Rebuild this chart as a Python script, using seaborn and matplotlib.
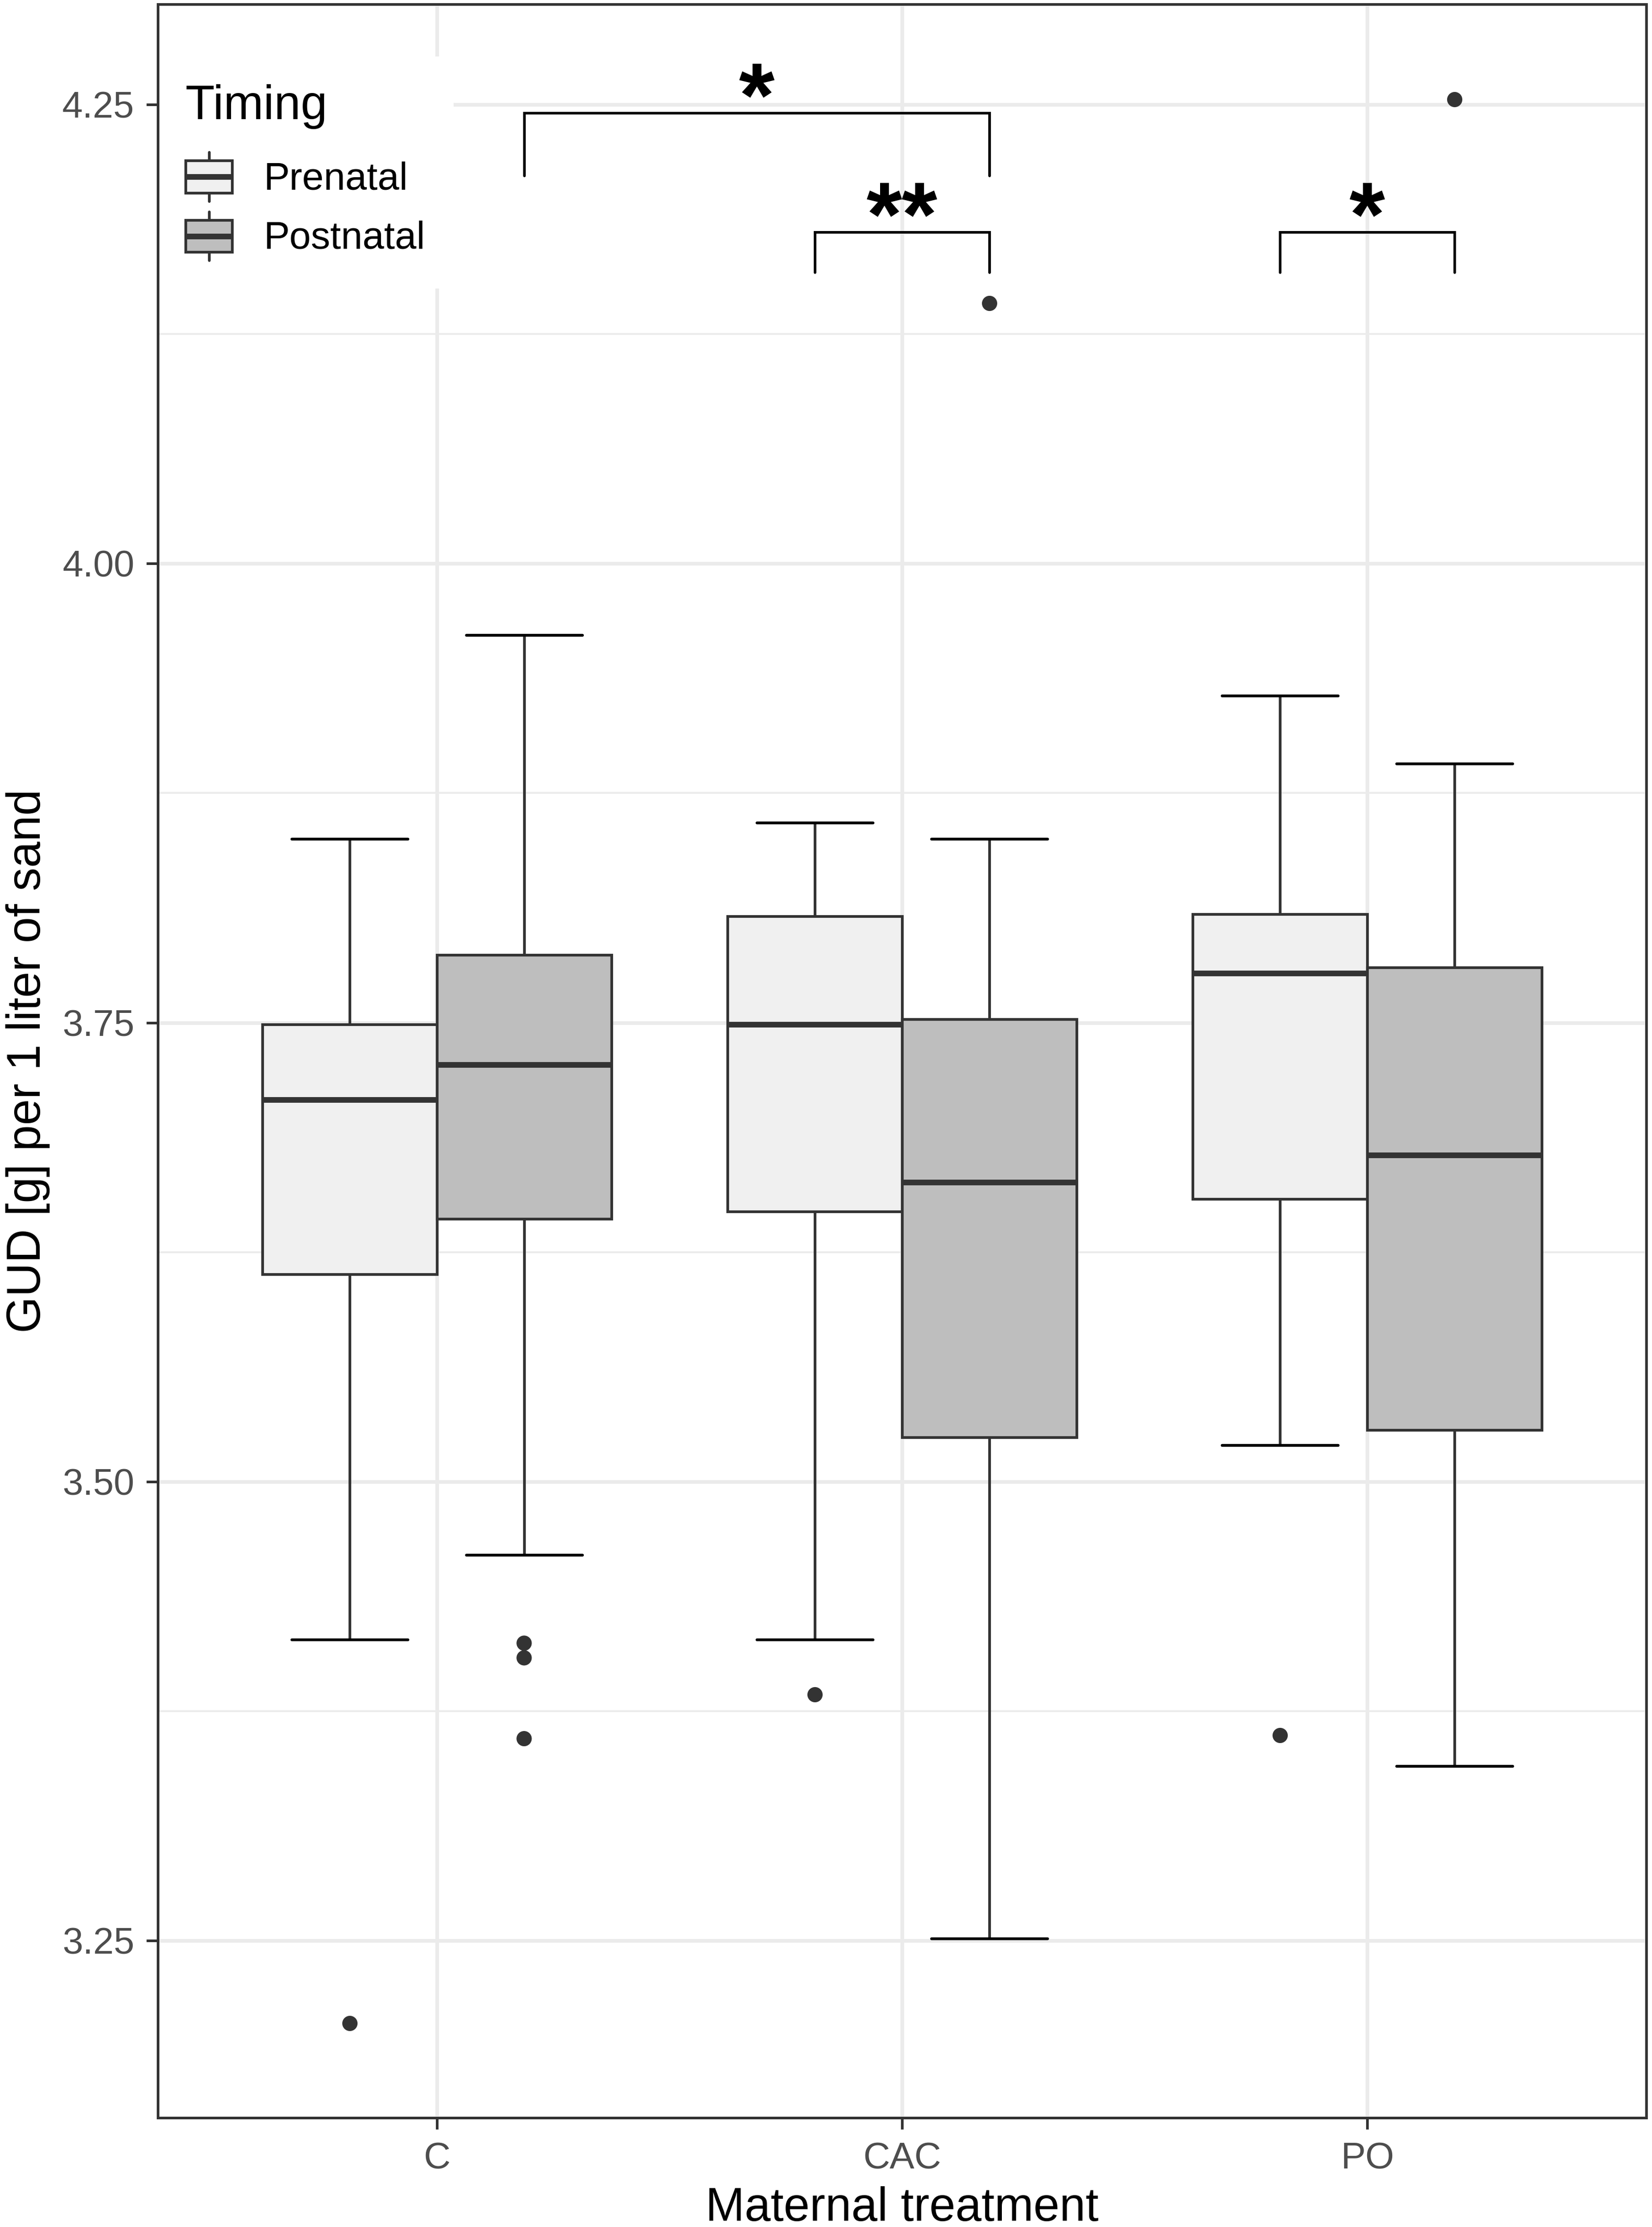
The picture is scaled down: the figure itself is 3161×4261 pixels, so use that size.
import numpy as np
import pandas as pd
import matplotlib.pyplot as plt
import seaborn as sns
from matplotlib.legend_handler import HandlerBase
from matplotlib.patches import Patch, Rectangle
from matplotlib.lines import Line2D
from matplotlib.ticker import MultipleLocator, FormatStrFormatter

# ---- data ----
treatment = ["C", "CAC", "PO"]
timing = ["Prenatal", "Postnatal"]

# five-number summaries per box: lower whisker, Q1, median, Q3, upper whisker
pre_low = [3.414, 3.414, 3.520]
pre_q1 = [3.613, 3.647, 3.654]
pre_median = [3.708, 3.749, 3.777]
pre_q3 = [3.749, 3.808, 3.809]
pre_high = [3.850, 3.859, 3.928]

post_low = [3.460, 3.251, 3.345]
post_q1 = [3.643, 3.524, 3.528]
post_median = [3.727, 3.663, 3.678]
post_q3 = [3.787, 3.752, 3.780]
post_high = [3.961, 3.850, 3.891]

# outlying points
outlier_treatment = ["C", "C", "C", "C", "CAC", "CAC", "PO", "PO"]
outlier_timing = ["Prenatal", "Postnatal", "Postnatal", "Postnatal",
                  "Prenatal", "Postnatal", "Prenatal", "Postnatal"]
outlier_value = [3.205, 3.412, 3.404, 3.360, 3.384, 4.142, 3.362, 4.253]

# significance brackets
sig_from = [("C", "Postnatal"), ("CAC", "Prenatal"), ("PO", "Prenatal")]
sig_to = [("CAC", "Postnatal"), ("CAC", "Postnatal"), ("PO", "Postnatal")]
sig_top = [4.2456, 4.1807, 4.1807]
sig_tip = [4.2114, 4.1588, 4.1588]
sig_label = ["*", "**", "*"]

fills = {"Prenatal": "#F0F0F0", "Postnatal": "#BEBEBE"}
EDGE = "#333333"

# long table for seaborn (one row per summary value)
rows = []
stats = {"Prenatal": [pre_low, pre_q1, pre_median, pre_q3, pre_high],
         "Postnatal": [post_low, post_q1, post_median, post_q3, post_high]}
for i, t in enumerate(treatment):
    for tim in timing:
        for s in stats[tim]:
            rows.append({"Treatment": t, "Timing": tim, "GUD": s[i]})
box_df = pd.DataFrame(rows)
out_df = pd.DataFrame({"Treatment": outlier_treatment,
                       "Timing": outlier_timing,
                       "GUD": outlier_value})

sns.set_theme(style="white")
plt.rcParams["font.family"] = ["Liberation Sans", "DejaVu Sans"]

fig = plt.figure(figsize=(3162 / 300, 4261 / 300), dpi=300)
ax = fig.add_axes([302 / 3162, 1 - 4052 / 4261, 2848 / 3162, 4044 / 4261])
ax.set_axisbelow(True)

box_width = 0.75
half = box_width / 4   # dodge offset of each hue box

sns.boxplot(data=box_df, x="Treatment", y="GUD", hue="Timing",
            order=treatment, hue_order=timing, palette=fills, saturation=1,
            width=box_width, gap=0, dodge=True, whis=(0, 100), showfliers=False,
            linecolor=EDGE, linewidth=1.25, legend=False, ax=ax,
            medianprops={"linewidth": 2.6, "solid_capstyle": "butt"},
            capprops={"color": "black", "linewidth": 1.3},
            capwidths=0.25)

n_before = len(ax.collections)
sns.stripplot(data=out_df, x="Treatment", y="GUD", hue="Timing",
              order=treatment, hue_order=timing, dodge=True, jitter=False,
              palette={"Prenatal": EDGE, "Postnatal": EDGE}, size=7,
              linewidth=0, legend=False, ax=ax)
# stripplot always dodges by 0.8/4; pull the points onto the box centres
strip_off = 0.8 / 4
for coll in ax.collections[n_before:]:
    xy = np.asarray(coll.get_offsets(), dtype=float)
    if len(xy):
        side = np.sign(xy[:, 0] - np.round(xy[:, 0]))
        xy[:, 0] -= side * (strip_off - half)
        coll.set_offsets(xy)

ax.set_xlim(-0.6, 2.6)
ax.set_ylim(3.1535, 4.3047)
ax.yaxis.set_major_locator(MultipleLocator(0.25))
ax.yaxis.set_minor_locator(MultipleLocator(0.125))
ax.yaxis.set_major_formatter(FormatStrFormatter("%.2f"))

ax.grid(which="major", color="#EBEBEB", linewidth=1.7)
ax.grid(which="minor", axis="y", color="#EBEBEB", linewidth=0.85)
ax.tick_params(which="minor", length=0)
ax.tick_params(which="major", bottom=True, left=True, length=5.3, width=1.2,
               color=EDGE, labelcolor="#4D4D4D", labelsize=17)
ax.tick_params(axis="x", pad=5.8)
ax.tick_params(axis="y", pad=5.5)
for sp in ax.spines.values():
    sp.set_visible(True)
    sp.set_color(EDGE)
    sp.set_linewidth(1.2)
    sp.set_zorder(10)

ax.set_xlabel("Maternal treatment", fontsize=21.5, color="black", labelpad=4.6)
ax.set_ylabel("GUD [g] per 1 liter of sand", fontsize=21.5, color="black", labelpad=5.5)


# brackets with stars
def box_x(cat, tim):
    return treatment.index(cat) + (-half if tim == "Prenatal" else half)


for a, b, top, tip, lab in zip(sig_from, sig_to, sig_top, sig_tip, sig_label):
    x1, x2 = box_x(*a), box_x(*b)
    ax.plot([x1, x1, x2, x2], [tip, top, top, tip], color="black", lw=1.2,
            solid_joinstyle="miter", zorder=5)
    ax.annotate(lab, xy=((x1 + x2) / 2, top), xytext=(0, -6),
                textcoords="offset points", ha="center", va="baseline",
                fontsize=42, fontweight="bold", color="black")


# legend keys drawn as small boxplots, like ggplot
class BoxKey(HandlerBase):
    def create_artists(self, legend, orig_handle, xdescent, ydescent,
                       width, height, fontsize, trans):
        x0, y0 = -xdescent, -ydescent
        cx = x0 + width / 2
        bh = height * 0.66
        by = y0 + (height - bh) / 2
        rect = Rectangle((x0, by), width, bh, facecolor=orig_handle.get_facecolor(),
                         edgecolor=EDGE, lw=1.25, transform=trans)
        med = Line2D([x0, x0 + width], [y0 + height / 2] * 2, color=EDGE, lw=2.6,
                     solid_capstyle="butt", transform=trans)
        w1 = Line2D([cx, cx], [y0, by], color=EDGE, lw=1.25, transform=trans)
        w2 = Line2D([cx, cx], [by + bh, y0 + height], color=EDGE, lw=1.25, transform=trans)
        return [w1, w2, rect, med]


handles = [Patch(facecolor=fills[t], edgecolor=EDGE) for t in timing]
leg = ax.legend(handles, timing, handler_map={Patch: BoxKey()}, title="Timing",
                loc="upper left", bbox_to_anchor=(0, 0.9753), borderaxespad=0,
                borderpad=0.72, fontsize=17.8, title_fontsize=22,
                handlelength=1.2, handleheight=1.57, labelspacing=0.26,
                handletextpad=0.82, frameon=True, fancybox=False,
                facecolor="white", edgecolor="none", framealpha=1,
                alignment="left", labelcolor="black")
leg.get_title().set_color("black")
# a bit more room between title and keys, as in the ggplot legend
leg._legend_box.sep = 10.6

fig.savefig("out.png", dpi=300)
